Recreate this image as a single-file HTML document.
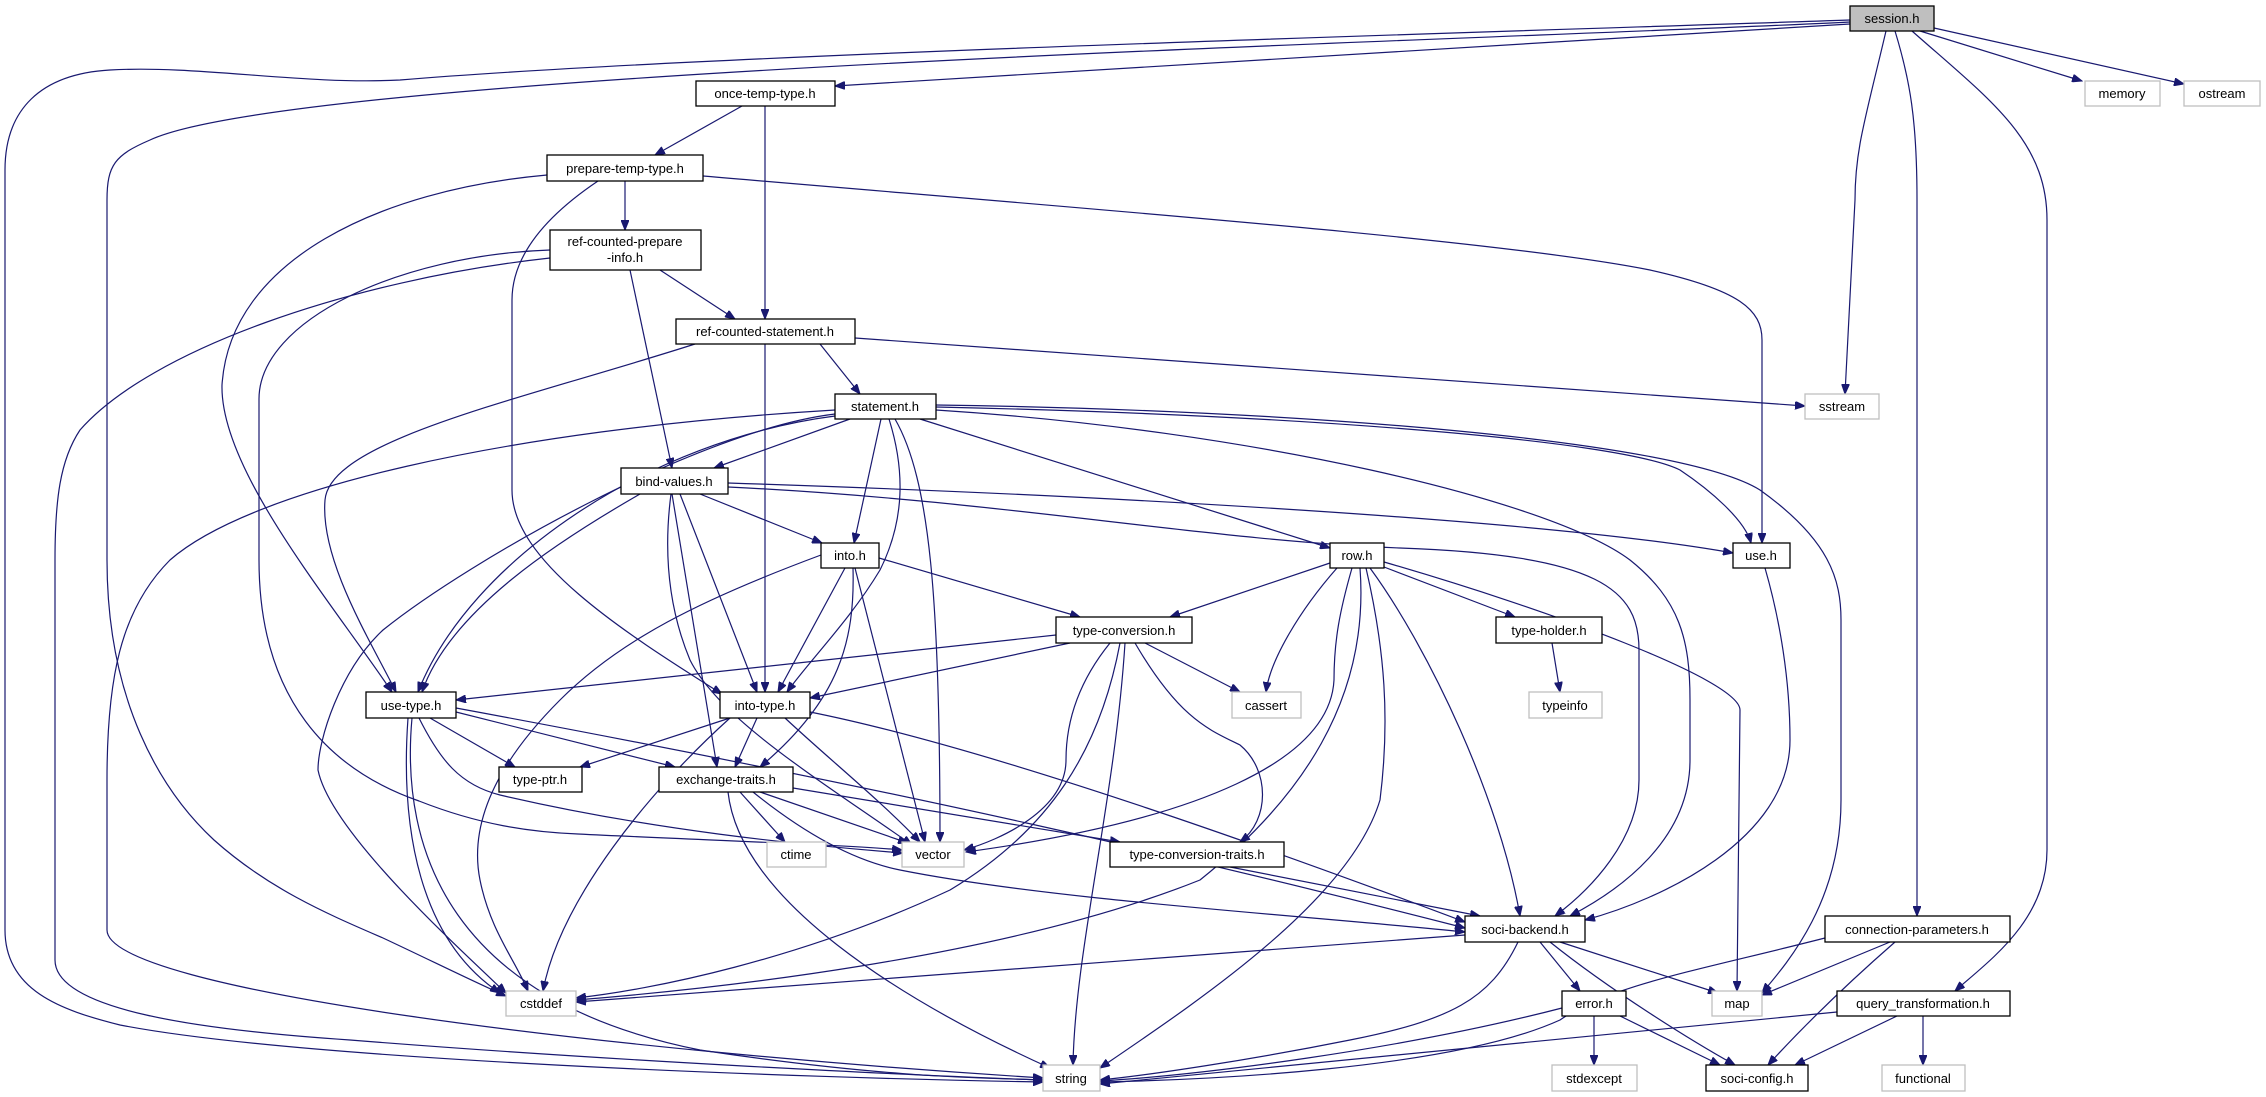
<!DOCTYPE html>
<html><head><meta charset="utf-8"><style>
html,body{margin:0;padding:0;background:#fff;}
svg{display:block;}
text{font-family:"Liberation Sans",sans-serif;font-size:13px;fill:#000;}
.e{fill:none;stroke:#191970;stroke-width:1.2;marker-end:url(#a);}
.n{fill:#fff;stroke:#000;stroke-width:1.3;}
.g{fill:#fff;stroke:#bfbfbf;stroke-width:1.3;}
</style></head><body>
<svg width="2266" height="1097" viewBox="0 0 2266 1097" xmlns="http://www.w3.org/2000/svg">
<defs><marker id="a" markerUnits="userSpaceOnUse" markerWidth="11" markerHeight="8" refX="10" refY="4" orient="auto"><path d="M0,0 L10,4 L0,8 z" fill="#191970" stroke="#191970"/></marker></defs>
<g>
<path class="e" d="M1850,24 L835,86"/>
<path class="e" d="M1850,20 C1400,35 700,55 400,80 C300,85 200,65 110,70 C40,74 5,110 5,170 L5,930 C5,990 60,1010 120,1025 C300,1060 800,1078 1043,1082"/>
<path class="e" d="M1850,22 C1500,40 300,70 150,140 C115,155 107,165 107,200 L107,560 C107,700 160,790 214,840 C270,890 330,915 383,938 C430,960 470,980 506,996"/>
<path class="e" d="M1886,31 C1865,120 1855,150 1855,200 L1845,394"/>
<path class="e" d="M1895,31 C1910,80 1917,120 1917,200 L1917,916"/>
<path class="e" d="M1912,31 C1990,100 2047,140 2047,220 L2047,850 C2047,920 1990,960 1955,991"/>
<path class="e" d="M1920,31 L2082,81"/>
<path class="e" d="M1934,28 L2184,84"/>
<path class="e" d="M742,106 L655,155"/>
<path class="e" d="M765,106 L765,319"/>
<path class="e" d="M625,181 L625,230"/>
<path class="e" d="M547,175 C380,190 230,260 222,385 C220,470 330,600 392,692"/>
<path class="e" d="M598,181 C540,220 512,260 512,300 L512,490 C512,560 620,630 722,694"/>
<path class="e" d="M703,176 C1100,210 1500,240 1650,270 C1740,290 1762,310 1762,340 L1762,543"/>
<path class="e" d="M660,270 L735,319"/>
<path class="e" d="M630,270 L672,468"/>
<path class="e" d="M550,250 C400,255 259,320 259,399 L259,560 C259,700 330,770 419,801 C480,825 530,832 578,834 C700,840 850,845 902,850"/>
<path class="e" d="M550,258 C350,280 150,350 80,430 C60,460 55,500 55,560 L55,960 C55,1010 200,1030 350,1040 C600,1060 900,1075 1043,1080"/>
<path class="e" d="M820,344 L860,394"/>
<path class="e" d="M855,338 L1805,406"/>
<path class="e" d="M765,344 L765,692"/>
<path class="e" d="M695,344 C520,400 330,440 325,500 C320,560 370,640 396,692"/>
<path class="e" d="M850,419 L714,468"/>
<path class="e" d="M881,419 L854,543"/>
<path class="e" d="M889,419 C905,470 905,520 880,570 C850,620 810,660 787,692"/>
<path class="e" d="M895,419 C930,480 940,600 940,842"/>
<path class="e" d="M920,419 L1330,548"/>
<path class="e" d="M936,407 C1300,415 1620,440 1680,470 C1710,490 1745,520 1751,543"/>
<path class="e" d="M936,405 C1300,410 1680,440 1760,490 C1830,540 1841,580 1841,620 L1841,800 C1841,900 1790,960 1762,993"/>
<path class="e" d="M936,410 C1250,430 1550,500 1630,560 C1680,600 1690,640 1690,700 L1690,760 C1690,840 1620,890 1570,916"/>
<path class="e" d="M835,410 C500,430 250,490 170,560 C120,610 107,680 107,780 L107,930 C107,990 600,1050 1043,1078"/>
<path class="e" d="M835,414 C700,430 470,560 383,630 C340,670 318,740 318,770 C330,830 450,940 506,993"/>
<path class="e" d="M835,416 C650,440 470,560 418,692"/>
<path class="e" d="M640,494 C560,540 450,610 422,692"/>
<path class="e" d="M700,494 L822,543"/>
<path class="e" d="M680,494 L757,692"/>
<path class="e" d="M672,494 L717,767"/>
<path class="e" d="M671,494 C665,540 665,600 690,660 C720,720 820,780 912,845"/>
<path class="e" d="M728,483 C1100,495 1550,520 1733,553"/>
<path class="e" d="M728,487 C1000,500 1200,540 1400,548 C1600,555 1639,590 1639,650 L1639,780 C1639,840 1590,890 1555,916"/>
<path class="e" d="M879,558 L1080,617"/>
<path class="e" d="M845,568 L778,692"/>
<path class="e" d="M853,568 C855,640 840,700 760,767"/>
<path class="e" d="M855,568 L925,842"/>
<path class="e" d="M821,555 C700,600 620,640 560,700 C490,770 470,830 480,880 C490,930 515,960 528,991"/>
<path class="e" d="M1330,563 L1170,617"/>
<path class="e" d="M1337,568 C1300,610 1270,660 1266,692"/>
<path class="e" d="M1384,567 L1515,617"/>
<path class="e" d="M1384,562 C1550,610 1740,680 1740,710 L1737,991"/>
<path class="e" d="M1370,568 C1430,650 1500,800 1520,916"/>
<path class="e" d="M1352,568 C1340,610 1334,640 1334,680 C1330,760 1200,820 966,852"/>
<path class="e" d="M1360,568 C1370,700 1300,800 1200,880 C1000,960 700,990 576,1000"/>
<path class="e" d="M1366,568 C1385,650 1390,720 1380,800 C1350,900 1200,1000 1100,1068"/>
<path class="e" d="M1056,635 L456,700"/>
<path class="e" d="M1070,643 L810,698"/>
<path class="e" d="M1145,643 L1240,692"/>
<path class="e" d="M1110,643 C1080,680 1066,720 1066,760 C1066,810 1000,840 964,850"/>
<path class="e" d="M1125,643 C1115,800 1075,950 1073,1065"/>
<path class="e" d="M1120,643 C1100,750 1050,830 950,890 C800,960 650,990 576,998"/>
<path class="e" d="M1135,643 C1180,720 1210,730 1240,745 C1270,770 1270,820 1240,842"/>
<path class="e" d="M1552,643 L1560,692"/>
<path class="e" d="M430,718 L515,767"/>
<path class="e" d="M456,712 L675,767"/>
<path class="e" d="M419,718 C440,760 460,785 500,795 C650,830 800,845 903,853"/>
<path class="e" d="M456,708 C900,790 1200,860 1465,928"/>
<path class="e" d="M408,718 C400,830 420,940 500,993"/>
<path class="e" d="M412,718 C400,850 450,1000 700,1050 C900,1080 1000,1078 1043,1080"/>
<path class="e" d="M730,718 L580,767"/>
<path class="e" d="M757,718 L735,767"/>
<path class="e" d="M785,718 C830,760 880,800 920,842"/>
<path class="e" d="M810,712 C1000,750 1300,860 1465,922"/>
<path class="e" d="M730,718 C650,790 560,900 543,991"/>
<path class="e" d="M740,792 L785,842"/>
<path class="e" d="M760,792 L908,843"/>
<path class="e" d="M793,788 L1120,842"/>
<path class="e" d="M753,792 C800,830 850,860 900,870 C1050,900 1300,915 1465,932"/>
<path class="e" d="M728,792 C740,900 900,1000 1050,1068"/>
<path class="e" d="M1230,867 L1480,916"/>
<path class="e" d="M1765,568 C1780,620 1790,680 1790,740 C1790,840 1660,900 1585,920"/>
<path class="e" d="M1465,935 L576,1002"/>
<path class="e" d="M1518,942 C1490,1000 1450,1020 1350,1040 C1250,1060 1150,1075 1100,1080"/>
<path class="e" d="M1540,942 L1580,991"/>
<path class="e" d="M1560,942 L1718,993"/>
<path class="e" d="M1550,942 C1610,990 1690,1040 1735,1065"/>
<path class="e" d="M1890,942 L1762,995"/>
<path class="e" d="M1895,942 C1840,990 1800,1030 1768,1065"/>
<path class="e" d="M1825,938 C1700,970 1610,985 1560,1020 C1450,1070 1200,1080 1100,1082"/>
<path class="e" d="M1594,1016 L1594,1065"/>
<path class="e" d="M1620,1016 L1720,1065"/>
<path class="e" d="M1562,1008 C1400,1050 1200,1075 1100,1081"/>
<path class="e" d="M1897,1016 L1795,1065"/>
<path class="e" d="M1923,1016 L1923,1065"/>
<path class="e" d="M1837,1012 L1100,1084"/>
</g>
<g text-anchor="middle">
<rect x="1850" y="6" width="84" height="25" fill="#bfbfbf" stroke="#000" stroke-width="1.3"/><text x="1892" y="23">session.h</text>
<rect class="n" x="696" y="81" width="139" height="25"/><text x="765" y="98">once-temp-type.h</text>
<rect class="g" x="2085" y="81" width="75" height="25"/><text x="2122" y="98">memory</text>
<rect class="g" x="2184" y="81" width="76" height="25"/><text x="2222" y="98">ostream</text>
<rect class="n" x="547" y="155" width="156" height="26"/><text x="625" y="173">prepare-temp-type.h</text>
<rect class="n" x="550" y="230" width="151" height="40"/><text x="625" y="246">ref-counted-prepare</text><text x="625" y="262">-info.h</text>
<rect class="n" x="676" y="319" width="179" height="25"/><text x="765" y="336">ref-counted-statement.h</text>
<rect class="n" x="835" y="394" width="101" height="25"/><text x="885" y="411">statement.h</text>
<rect class="g" x="1805" y="394" width="74" height="25"/><text x="1842" y="411">sstream</text>
<rect class="n" x="621" y="468" width="107" height="26"/><text x="674" y="486">bind-values.h</text>
<rect class="n" x="821" y="543" width="58" height="25"/><text x="850" y="560">into.h</text>
<rect class="n" x="1330" y="543" width="54" height="25"/><text x="1357" y="560">row.h</text>
<rect class="n" x="1733" y="543" width="57" height="25"/><text x="1761" y="560">use.h</text>
<rect class="n" x="1056" y="617" width="136" height="26"/><text x="1124" y="635">type-conversion.h</text>
<rect class="n" x="1496" y="617" width="106" height="26"/><text x="1549" y="635">type-holder.h</text>
<rect class="n" x="366" y="692" width="90" height="26"/><text x="411" y="710">use-type.h</text>
<rect class="n" x="720" y="692" width="90" height="26"/><text x="765" y="710">into-type.h</text>
<rect class="g" x="1232" y="692" width="69" height="26"/><text x="1266" y="710">cassert</text>
<rect class="g" x="1529" y="692" width="73" height="26"/><text x="1565" y="710">typeinfo</text>
<rect class="n" x="499" y="767" width="83" height="25"/><text x="540" y="784">type-ptr.h</text>
<rect class="n" x="659" y="767" width="134" height="25"/><text x="726" y="784">exchange-traits.h</text>
<rect class="g" x="767" y="842" width="59" height="25"/><text x="796" y="859">ctime</text>
<rect class="g" x="902" y="842" width="62" height="25"/><text x="933" y="859">vector</text>
<rect class="n" x="1110" y="842" width="174" height="25"/><text x="1197" y="859">type-conversion-traits.h</text>
<rect class="n" x="1465" y="916" width="120" height="26"/><text x="1525" y="934">soci-backend.h</text>
<rect class="n" x="1825" y="916" width="185" height="26"/><text x="1917" y="934">connection-parameters.h</text>
<rect class="g" x="506" y="991" width="70" height="25"/><text x="541" y="1008">cstddef</text>
<rect class="n" x="1562" y="991" width="64" height="25"/><text x="1594" y="1008">error.h</text>
<rect class="g" x="1712" y="991" width="50" height="25"/><text x="1737" y="1008">map</text>
<rect class="n" x="1837" y="991" width="173" height="25"/><text x="1923" y="1008">query_transformation.h</text>
<rect class="g" x="1043" y="1065" width="57" height="26"/><text x="1071" y="1083">string</text>
<rect class="g" x="1552" y="1065" width="85" height="26"/><text x="1594" y="1083">stdexcept</text>
<rect class="n" x="1706" y="1065" width="102" height="26"/><text x="1757" y="1083">soci-config.h</text>
<rect class="g" x="1882" y="1065" width="83" height="26"/><text x="1923" y="1083">functional</text>
</g>
</svg>
</body></html>
